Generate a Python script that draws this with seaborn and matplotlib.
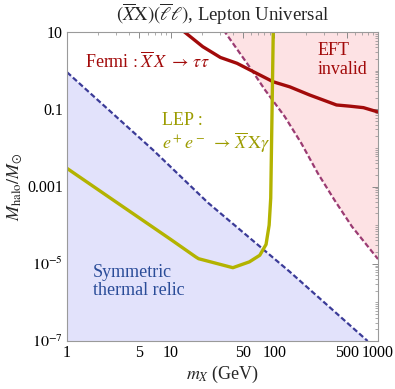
import numpy as np
import pandas as pd
import matplotlib
matplotlib.use("Agg")
import matplotlib.pyplot as plt
import matplotlib.ticker as mticker
import seaborn as sns

# ---- data ----
relic_m = [1.0, 6.8, 22.9, 141, 794]
relic_M = [0.91, 8.7e-3, 3.8e-4, 6.2e-6, 1.0e-7]

eft_m = [32.4, 58.9, 81.3, 126, 182, 263, 380, 562, 1000]
eft_M = [11.2, 1.15, 0.316, 0.0646, 0.0132, 2.19e-3, 4.47e-4, 9.1e-5, 1.32e-5]

fermi_m = [12.9, 20.4, 30.2, 43.6, 63.1, 97.7, 141, 219, 295, 398, 537, 724, 1000]
fermi_M = [11.2, 4.17, 2.19, 1.55, 0.933, 0.513, 0.380, 0.234, 0.174, 0.129, 0.120, 0.110, 0.085]

lep_m = [1.0, 3.16, 10.0, 17.4, 18.6, 39.8, 57.5, 72.4, 83.2, 89.1, 92.3, 97.7]
lep_M = [2.95e-3, 3.55e-4, 4.27e-5, 1.51e-5, 1.35e-5, 7.9e-6, 1.12e-5, 1.66e-5, 3.16e-5, 1.0e-4, 5.0e-4, 11.2]

xticks = [1, 5, 10, 50, 100, 500, 1000]
xtick_labels = ["1", "5", "10", "50", "100", "500", "1000"]
yticks = [10, 0.1, 1e-3, 1e-5, 1e-7]
ytick_labels = ["10", "0.1", "0.001", r"$10^{-5}$", r"$10^{-7}$"]

# ---- style ----
sns.set_style("white")
plt.rcParams["font.family"] = ["Liberation Serif", "DejaVu Serif"]
plt.rcParams["mathtext.fontset"] = "stix"

fig = plt.figure(figsize=(3.95, 3.89), dpi=100)
ax = fig.add_axes([67/395, 1-341/389, (378-67)/395, (341-32)/389])

c_blue_fill = "#e2e2fb"
c_blue = "#3b3b98"
c_pink_fill = "#fde2e4"
c_pink = "#9b3b72"
c_red = "#a20a0a"
c_yel = "#b3b300"

ax.fill_between(relic_m, relic_M, 1e-7, color=c_blue_fill, lw=0, zorder=0)
ax.fill_between(eft_m, eft_M, 100, color=c_pink_fill, lw=0, zorder=0)

df_relic = pd.DataFrame({"m": relic_m, "M": relic_M})
df_eft = pd.DataFrame({"m": eft_m, "M": eft_M})
df_fermi = pd.DataFrame({"m": fermi_m, "M": fermi_M})
df_lep = pd.DataFrame({"m": lep_m, "M": lep_M})

sns.lineplot(data=df_relic, x="m", y="M", ax=ax, sort=False, estimator=None,
             color=c_blue, lw=1.6, linestyle=(0, (2.4, 1.2)))
sns.lineplot(data=df_eft, x="m", y="M", ax=ax, sort=False, estimator=None,
             color=c_pink, lw=1.6, linestyle=(0, (2.4, 1.2)))
sns.lineplot(data=df_fermi, x="m", y="M", ax=ax, sort=False, estimator=None,
             color=c_red, lw=2.4)
sns.lineplot(data=df_lep, x="m", y="M", ax=ax, sort=False, estimator=None,
             color=c_yel, lw=2.4)

ax.set_xscale("log")
ax.set_yscale("log")
ax.set_xlim(1, 1000)
ax.set_ylim(1e-7, 10)

ax.xaxis.set_major_locator(mticker.FixedLocator(xticks))
ax.xaxis.set_major_formatter(mticker.FixedFormatter(xtick_labels))
ax.xaxis.set_minor_locator(mticker.LogLocator(base=10, subs=np.arange(1, 10), numticks=100))
ax.xaxis.set_minor_formatter(mticker.NullFormatter())
ax.yaxis.set_major_locator(mticker.FixedLocator(yticks))
ax.yaxis.set_major_formatter(mticker.FixedFormatter(ytick_labels))
ax.yaxis.set_minor_locator(mticker.LogLocator(base=10, subs=np.arange(1, 10), numticks=100))
ax.yaxis.set_minor_formatter(mticker.NullFormatter())

for s in ax.spines.values():
    s.set_color("#9a9a9a")
    s.set_linewidth(0.8)
ax.tick_params(which="both", direction="in", top=True, right=True,
               color="#8a8a8a", labelsize=11.5, labelcolor="black")
ax.tick_params(which="major", length=4.5, width=0.7, pad=3)
ax.tick_params(which="minor", length=2.3, width=0.5)

ax.set_xlabel(r"$m_X$ (GeV)", fontsize=13, labelpad=2)
ax.set_ylabel(r"$M_{\rm halo}/M_{\odot}$", fontsize=13, labelpad=2)
ax.set_title(r"$(\overline{X}\mathrm{X})(\overline{\ell}\ell)$, Lepton Universal",
             fontsize=13.5, pad=8)

ax.text(1.49, 1.67, r"Fermi$\,:\overline{X}\,X\ \rightarrow\,\tau\tau$", color=c_red,
        fontsize=13, ha="left", va="center")
ax.text(263, 1.9, "EFT\ninvalid", color=c_red, fontsize=13, ha="left",
        va="center", linespacing=1.1)
ax.text(8.24, 0.0525, "LEP :", color="#9c9c00", fontsize=13, ha="left", va="center")
ax.text(8.24, 0.0133, r"$e^+e^-\ \rightarrow\,\overline{X}\,\mathrm{X}\gamma$",
        color="#9c9c00", fontsize=13, ha="left", va="center")
ax.text(1.78, 3.5e-6, "Symmetric\nthermal relic", color="#2a4c98", fontsize=13,
        ha="left", va="center", linespacing=1.05)

if ax.get_legend() is not None:
    ax.get_legend().remove()

fig.savefig("out.png", dpi=100)
